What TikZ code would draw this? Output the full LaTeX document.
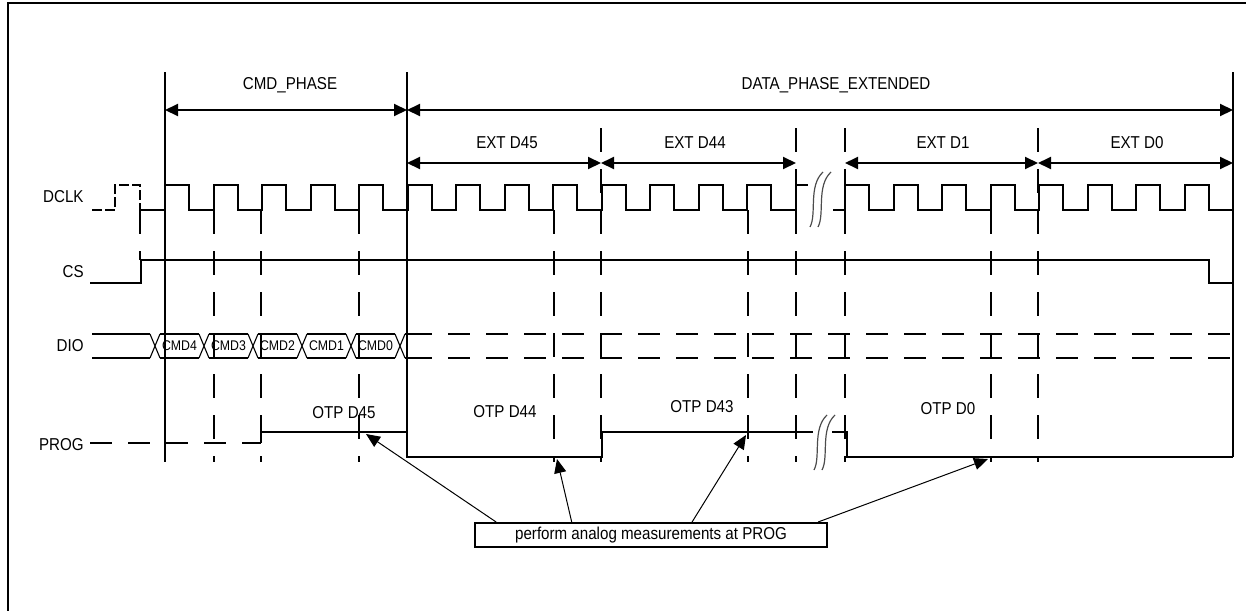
\documentclass[tikz,border=0pt]{standalone}
\usepackage{fontspec}
\setmainfont[FakeStretch=0.88]{Liberation Sans}
\usetikzlibrary{arrows.meta,calc}
\tikzset{
  sig/.style={line width=1pt},
  bus/.style={line width=0.55pt},
  guide/.style={line width=1pt, dash pattern=on 12pt off 8.5pt},
  busdash/.style={line width=1pt, dash pattern=on 11pt off 8pt},
  phase/.style={{Triangle[length=6.5pt,width=6pt]}-{Triangle[length=6.5pt,width=6pt]}, line width=1pt},
  meas/.style={-{Triangle[length=7pt,width=6pt]}, line width=0.5pt},
  brk/.style={draw=black!70, line width=0.6pt},
  lbl/.style={font=\fontsize{8.6}{10}\selectfont, inner sep=1pt},
  cmd/.style={font=\fontsize{7}{8}\selectfont, inner sep=0pt}}
\newcommand{\clkhalf}{24.25}

\begin{document}
\begin{tikzpicture}[x=0.5pt,y=-0.5pt]
  \useasboundingbox (0,0) rectangle (1246,611);
  \draw[line width=1.1pt] (1246,3) -| (8,611);

  % signal names
  \node[lbl, anchor=east] (dclk) at (86,197) {DCLK};
  \node[lbl, anchor=east] (cs) at (86,272) {CS};
  \node[lbl, anchor=east] (dio) at (86,346) {DIO};
  \node[lbl, anchor=east] (prog) at (86,445) {PROG};

  % phase limits and guides
  \draw[sig] (165,72) -- (165,462);
  \draw[sig] (407,72) -- (407,457);
  \draw[sig] (1233,72) -- (1233,457);
  \foreach \x in {214,261,359,554,748,991}
    \draw[guide] (\x,210) -- (\x,462);
  \foreach \x in {601,796,845,1038}
    \draw[guide] (\x,128) -- (\x,462);
  \draw[guide] (140,210) -- (140,260);

  % phase arrows
  \foreach \n/\x in {p0/165,p1/407,p2/1233}
    \coordinate (\n) at (\x,110);
  \foreach \n/\x in {e0/407,e1/601,e2/796,e3/845,e4/1038,e5/1233}
    \coordinate (\n) at (\x,163);
  \draw[phase] (p0) -- (p1);
  \draw[phase] (p1) -- (p2);
  \draw[phase] (e0) -- (e1);
  \draw[phase] (e1) -- (e2);
  \draw[phase] (e3) -- (e4);
  \draw[phase] (e4) -- (e5);
  \node[lbl] (cmdph) at (290,85) {CMD\_PHASE};
  \node[lbl] (dataph) at (836,85) {DATA\_PHASE\_EXTENDED};
  \node[lbl] (ext45) at (507,143) {EXT D45};
  \node[lbl] (ext44) at (695,143) {EXT D44};
  \node[lbl] (ext1) at (943,143) {EXT D1};
  \node[lbl] (ext0) at (1137,143) {EXT D0};

  % DCLK
  \draw[sig, dash pattern=on 5pt off 1.5pt] (92,210) -- (115,210) -- (115,185) -- (140,185) -- (140,210);
  \draw[sig] (140,210) -- (165,210)
    \foreach \i in {1,...,13} {-- ++(0,-25) -- ++(\clkhalf,0) -- ++(0,25) -- ++(\clkhalf,0)}
    -- ++(0,-25) -- ++(12,0);
  \draw[sig] (833,210) -- (845,210)
    \foreach \i in {1,...,8} {-- ++(0,-25) -- ++(\clkhalf,0) -- ++(0,25) -- ++(\clkhalf,0)};

  % CS
  \draw[sig] (90,283) -- (141,283) -- (141,260) -- (1209,260) -- (1209,283) -- (1233,283);

  % DIO
  \draw[bus] (92,334) -- (150,334) (92,358) -- (150,358);
  \foreach \c in {155,204,253,302,351,400}
    \draw[bus] (\c-5,334) -- (\c+5,358) (\c-5,358) -- (\c+5,334);
  \foreach \c/\t in {155/CMD4,204/CMD3,253/CMD2,302/CMD1,351/CMD0} {
    \draw[bus] (\c+5,334) -- (\c+44,334) (\c+5,358) -- (\c+44,358);
    \node[cmd] (\t) at (\c+24.5,346) {\t};
  }
  \draw[bus] (405,334) -- (410,334) (405,358) -- (410,358);
  \draw[busdash] (410,334) -- (1233,334) (410,358) -- (1233,358);

  % PROG
  \draw[busdash] (90,443) -- (261,443);
  \draw[sig] (261,443) -- (261,432) -- (407,432) -- (407,457) -- (602,457) -- (602,432) -- (813,432);
  \draw[sig] (832,432) -- (847,432) -- (847,457) -- (1233,457);

  % time breaks
  \foreach \dx in {0,8} {
    \draw[brk] (823+\dx,172) .. controls (808+\dx,186) and (817+\dx,214) .. (810+\dx,227);
    \draw[brk] (827+\dx,415) .. controls (812+\dx,429) and (821+\dx,457) .. (814+\dx,470);
  }

  \node[lbl] (otp45) at (344,413) {OTP D45};
  \node[lbl] (otp44) at (505,412) {OTP D44};
  \node[lbl] (otp43) at (702,407) {OTP D43};
  \node[lbl] (otp0) at (948,409) {OTP D0};

  % measurement note
  \node[lbl, draw, line width=1pt, minimum width=176pt, minimum height=12pt, inner sep=0pt]
    (note) at (651,535) {perform analog measurements at PROG};
  \coordinate (t45) at (366,434);
  \coordinate (t44) at (557,459);
  \coordinate (t43) at (746,435);
  \coordinate (t0) at (988,459);
  \draw[meas] ($(note.north west)!0.0625!(note.north east)$) -- (t45);
  \draw[meas] ($(note.north west)!0.276!(note.north east)$) -- (t44);
  \draw[meas] ($(note.north west)!0.616!(note.north east)$) -- (t43);
  \draw[meas] ($(note.north west)!0.972!(note.north east)$) -- (t0);
\end{tikzpicture}
\end{document}
